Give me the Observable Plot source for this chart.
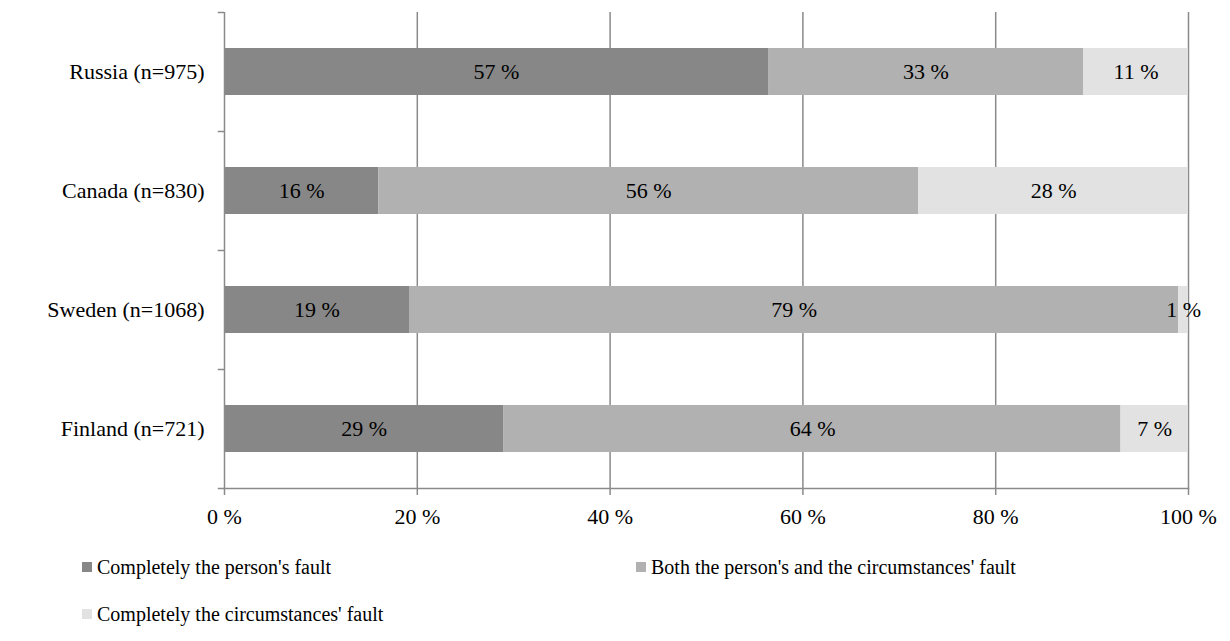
<!DOCTYPE html>
<html>
<head>
<meta charset="utf-8">
<script src="https://cdn.jsdelivr.net/npm/d3@7"></script>
<script src="https://cdn.jsdelivr.net/npm/@observablehq/plot@0.6"></script>
<style>
  html, body { margin: 0; padding: 0; background: #fff; }
  body { width: 1230px; height: 641px; overflow: hidden; font-family: "Liberation Serif", "Times New Roman", serif; }
  #chart svg { display: block; }
  #legend { display: flex; flex-wrap: wrap; padding-left: 82px; padding-top: 15px; row-gap: 23px; font-size: 20px; line-height: 24px; color: #000; }
  .item { width: 554px; display: flex; align-items: center; }
  .sw { width: 10px; height: 10px; margin-right: 5px; display: inline-block; }
</style>
</head>
<body>
<div id="chart"></div>
<div id="legend"></div>
<script>
const countries = ["Russia (n=975)", "Canada (n=830)", "Sweden (n=1068)", "Finland (n=721)"];
const categories = ["Completely the person's fault", "Both the person's and the circumstances' fault", "Completely the circumstances' fault"];
const person = [57, 16, 19, 29];
const both = [33, 56, 79, 64];
const circumstances = [11, 28, 1, 7];
const colors = ["#878787", "#b1b1b1", "#e2e2e2"];
const xTicks = [0, 0.2, 0.4, 0.6, 0.8, 1];

const series = [person, both, circumstances];
const data = countries.flatMap((c, i) => series.map((s, j) => ({country: c, cat: categories[j], value: s[i]})));

const gray = "#8a8a8a";
const halfStep = 59.5;

const chart = Plot.plot({
  width: 1230,
  height: 540,
  marginLeft: 224,
  marginRight: 42,
  marginTop: 12,
  marginBottom: 52,
  style: {fontFamily: "'Liberation Serif', 'Times New Roman', serif", fontSize: "22px", color: "#000", background: "#fff"},
  x: {domain: [0, 1]},
  y: {domain: countries, paddingInner: 0.605, paddingOuter: 0.3025},
  color: {domain: categories, range: colors},
  marks: [
    Plot.gridX(xTicks.slice(1), {stroke: gray, strokeOpacity: 1, strokeWidth: 1.5}),
    Plot.barX(data, Plot.stackX({x: "value", y: "country", fill: "cat", offset: "normalize"})),
    Plot.textX(data, Plot.stackX({x: "value", y: "country", z: "cat", offset: "normalize", text: d => d.value + " %", fill: "#000", fontSize: 22})),
    Plot.ruleX([0], {stroke: gray, strokeWidth: 1.5}),
    Plot.frame({anchor: "bottom", stroke: gray, strokeWidth: 1.5}),
    Plot.ruleY(countries, {y: d => d, dy: -halfStep, x1: -0.0065, x2: 0, stroke: gray, strokeWidth: 1.5}),
    Plot.ruleY(countries.slice(-1), {y: d => d, dy: halfStep, x1: -0.0065, x2: 0, stroke: gray, strokeWidth: 1.5}),
    Plot.axisX({ticks: xTicks, tickFormat: d => Math.round(d * 100) + " %", tickSize: 7, tickPadding: 13, stroke: gray, strokeWidth: 1.5, label: null, fontSize: 22}),
    Plot.axisY({tickSize: 0, tickPadding: 20, label: null, fontSize: 22})
  ]
});
document.getElementById("chart").appendChild(chart);

const legend = document.getElementById("legend");
categories.forEach((c, i) => {
  const item = document.createElement("div");
  item.className = "item";
  const sw = document.createElement("span");
  sw.className = "sw";
  sw.style.background = colors[i];
  item.appendChild(sw);
  item.appendChild(document.createTextNode(c));
  legend.appendChild(item);
});
</script>
</body>
</html>
